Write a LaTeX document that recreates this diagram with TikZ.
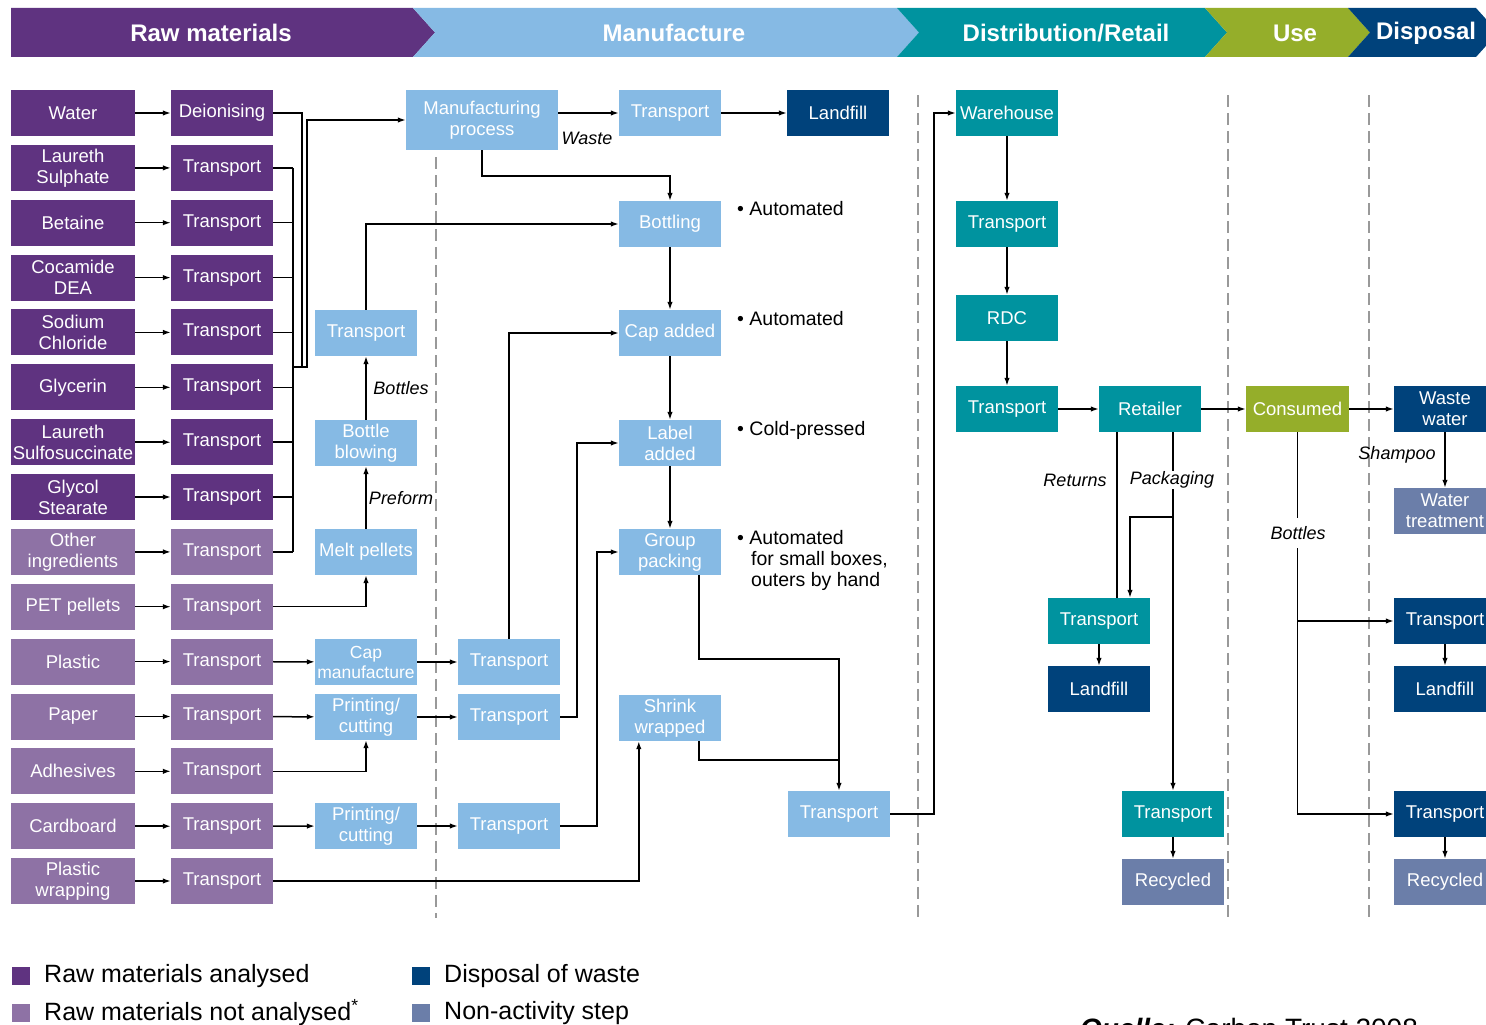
\documentclass[tikz,border=0pt]{standalone}
\usepackage{fontspec}
\setmainfont{Liberation Sans}
\usetikzlibrary{arrows.meta,calc}
\definecolor{cRawA}{HTML}{5F3380}
\definecolor{cRawB}{HTML}{8E72A5}
\definecolor{cManu}{HTML}{86BAE4}
\definecolor{cDist}{HTML}{00939F}
\definecolor{cUse}{HTML}{95AE2A}
\definecolor{cDisp}{HTML}{00427B}
\definecolor{cNon}{HTML}{6B7EA9}
\definecolor{cDash}{HTML}{999999}
\newcommand\bxfont{\fontsize{18.5}{21}\selectfont}
\begin{document}
\begin{tikzpicture}[x=1pt,y=-1pt,
  box/.style={minimum width=102pt,minimum height=46pt,inner sep=0pt,text=white,align=center,font=\bxfont},
  wide/.style={minimum width=124pt},
  rawA/.style={box,fill=cRawA},
  rawB/.style={box,fill=cRawB},
  manu/.style={box,fill=cManu},
  dist/.style={box,fill=cDist},
  usebox/.style={box,fill=cUse},
  disp/.style={box,fill=cDisp},
  nonact/.style={box,fill=cNon},
  ln/.style={line width=1.5pt,black},
  arr/.style={ln,-{Latex[length=8pt,width=5.5pt]}},
  sep/.style={cDash,line width=1.3pt,dash pattern=on 12pt off 6pt},
  lab/.style={font=\fontsize{18}{20}\selectfont\itshape,inner sep=1pt},
  note/.style={font=\fontsize{19.5}{21}\selectfont,anchor=base west,inner sep=0pt},
  hdr/.style={text=white,font=\fontsize{24}{26}\selectfont\bfseries},
  legsq/.style={minimum width=18pt,minimum height=18pt,inner sep=0pt},
  legtxt/.style={font=\fontsize{25}{27}\selectfont,anchor=west,inner sep=0pt}]
\useasboundingbox (0,0) rectangle (1486,1025);
\fill[white] (0,0) rectangle (1486,1025);
% header
\fill[cRawA] (11,8) -- (413,8) -- (435,32.5) -- (413,57) -- (11,57) -- cycle;
\fill[cManu] (413,8) -- (897,8) -- (919,32.5) -- (897,57) -- (413,57) -- (435,32.5) -- cycle;
\fill[cDist] (897,8) -- (1205,8) -- (1227,32.5) -- (1205,57) -- (897,57) -- (919,32.5) -- cycle;
\fill[cUse] (1205,8) -- (1348,8) -- (1370,32.5) -- (1348,57) -- (1205,57) -- (1227,32.5) -- cycle;
\fill[cDisp] (1348,8) -- (1476,8) -- (1498,32.5) -- (1476,57) -- (1348,57) -- (1370,32.5) -- cycle;
\node[hdr] (h1) at (211,33) {Raw materials};
\node[hdr] (h2) at (674,33) {Manufacture};
\node[hdr] (h3) at (1066,33) {Distribution/Retail};
\node[hdr] (h4) at (1295,33) {Use};
\node[hdr] (h5) at (1426,33) {Disposal};
% separators
\draw[sep] (436,157) -- (436,918);
\draw[sep] (918,95) -- (918,918);
\draw[sep] (1228,95) -- (1228,918);
\draw[sep] (1369,95) -- (1369,918);
% raw materials
\node[rawA,wide] (a1) at (73,113) {Water};
\node[rawA] (b1) at (222,113) {Deionising};
\node[rawA,wide] (a2) at (73,167.9) {Laureth\\Sulphate};
\node[rawA] (b2) at (222,167.9) {Transport};
\node[rawA,wide] (a3) at (73,222.7) {Betaine};
\node[rawA] (b3) at (222,222.7) {Transport};
\node[rawA,wide] (a4) at (73,277.6) {Cocamide\\DEA};
\node[rawA] (b4) at (222,277.6) {Transport};
\node[rawA,wide] (a5) at (73,332.4) {Sodium\\Chloride};
\node[rawA] (b5) at (222,332.4) {Transport};
\node[rawA,wide] (a6) at (73,387.3) {Glycerin};
\node[rawA] (b6) at (222,387.3) {Transport};
\node[rawA,wide] (a7) at (73,442.2) {Laureth\\Sulfosuccinate};
\node[rawA] (b7) at (222,442.2) {Transport};
\node[rawA,wide] (a8) at (73,497) {Glycol\\Stearate};
\node[rawA] (b8) at (222,497) {Transport};
\node[rawB,wide] (a9) at (73,551.9) {Other\\ingredients};
\node[rawB] (b9) at (222,551.9) {Transport};
\node[rawB,wide] (a10) at (73,606.7) {PET pellets};
\node[rawB] (b10) at (222,606.7) {Transport};
\node[rawB,wide] (a11) at (73,661.6) {Plastic};
\node[rawB] (b11) at (222,661.6) {Transport};
\node[rawB,wide] (a12) at (73,716.5) {Paper};
\node[rawB] (b12) at (222,716.5) {Transport};
\node[rawB,wide] (a13) at (73,771.3) {Adhesives};
\node[rawB] (b13) at (222,771.3) {Transport};
\node[rawB,wide] (a14) at (73,826.2) {Cardboard};
\node[rawB] (b14) at (222,826.2) {Transport};
\node[rawB,wide] (a15) at (73,881) {Plastic\\wrapping};
\node[rawB] (b15) at (222,881) {Transport};
\foreach \i in {1,...,15} \draw[arr] (a\i) -- (b\i);
% manufacture
\node[manu,minimum width=152pt,minimum height=60pt] (mp) at (482,120) {Manufacturing\\process};
\node[manu] (tt) at (670,113) {Transport};
\node[disp] (lf1) at (838,113) {Landfill};
\node[manu] (bott) at (670,224) {Bottling};
\node[manu] (capadd) at (670,333) {Cap added};
\node[manu] (label) at (670,443) {Label\\added};
\node[manu] (grp) at (670,552) {Group\\packing};
\node[manu] (shrink) at (670,718) {Shrink\\wrapped};
\node[manu] (ft) at (839,814) {Transport};
\node[manu] (m5) at (366,333) {Transport};
\node[manu] (bb) at (366,443) {Bottle\\blowing};
\node[manu] (melt) at (366,552) {Melt pellets};
\node[manu,font=\fontsize{17.5}{20}\selectfont] (capm) at (366,662) {Cap\\manufacture};
\node[manu] (pc1) at (366,717) {Printing/\\cutting};
\node[manu] (pc2) at (366,826) {Printing/\\cutting};
\node[manu] (c11) at (509,662) {Transport};
\node[manu] (c12) at (509,717) {Transport};
\node[manu] (c14) at (509,826) {Transport};
% distribution
\node[dist] (wh) at (1007,113) {Warehouse};
\node[dist] (dt1) at (1007,224) {Transport};
\node[dist] (rdc) at (1007,318) {RDC};
\node[dist] (dt2) at (1007,409) {Transport};
\node[dist] (ret) at (1150,409) {Retailer};
\node[dist] (lt) at (1099,621) {Transport};
\node[disp] (lf2) at (1099,689) {Landfill};
\node[dist] (rt) at (1173,814) {Transport};
\node[nonact] (rec1) at (1173,882) {Recycled};
% use & disposal
\node[usebox,minimum width=103pt] (cons) at (1297.5,409) {Consumed};
\node[disp] (ww) at (1445,409) {Waste\\water};
\node[nonact] (wt) at (1445,511) {Water\\treatment};
\node[disp] (dtr1) at (1445,621) {Transport};
\node[disp] (dlf) at (1445,689) {Landfill};
\node[disp] (dtr2) at (1445,814) {Transport};
\node[nonact] (drec) at (1445,882) {Recycled};
% bus from raw materials
\foreach \i in {2,...,9} \draw[ln] (b\i.east) -- ++(20,0);
\draw[ln] (293,167.9) -- (293,551.9);
\draw[ln] (b1.east) -- (302,113) -- (302,367);
\draw[arr] (293,367) -- (307,367) |- (mp.west);
% manufacture connectors
\draw[arr] (mp.east |- tt.west) -- (tt.west);
\draw[arr] (tt) -- (lf1);
\node[lab] (lwaste) at (587,138) {Waste};
\draw[arr] (mp.south) -- ++(0,26) -| (bott.north);
\draw[arr] (bott) -- (capadd);
\draw[arr] (capadd) -- (label);
\draw[arr] (label) -- (grp);
\draw[arr] (m5.north) |- (bott.west);
\draw[arr] (bb) -- (m5);
\node[lab] (lbottles) at (401,388) {Bottles};
\draw[arr] (melt) -- (bb);
\node[lab] (lpreform) at (401,498) {Preform};
\draw[arr] (b10.east) -| (melt.south);
\draw[arr] (b11) -- (capm);
\draw[arr] (capm) -- (c11);
\draw[arr] (c11.north) |- (capadd.west);
\draw[arr] (b12) -- (pc1);
\draw[arr] (pc1) -- (c12);
\draw[arr] (c12.east) -- ++(17,0) |- (label.west);
\draw[arr] (b13.east) -| (pc1.south);
\draw[arr] (b14) -- (pc2);
\draw[arr] (pc2) -- (c14);
\draw[arr] (c14.east) -- ++(37,0) |- (grp.west);
\draw[arr] (b15.east) -| ([xshift=20pt]shrink.south west);
\coordinate (j1) at (839,659);
\draw[arr] ([xshift=29pt]grp.south) |- (j1) -- (ft.north);
\draw[ln] ([xshift=29pt]shrink.south) |- (839,760);
\draw[arr] (ft.east) -- ++(44,0) |- (wh.west);
% notes
\node[note] (n1) at (737,215) {• Automated};
\node[note] (n2) at (737,325) {• Automated};
\node[note] (n3) at (737,435) {• Cold-pressed};
\node[note] (n4) at (737,544) {• Automated};
\node[note] (n5) at (751,565) {for small boxes,};
\node[note] (n6) at (751,586) {outers by hand};
% distribution connectors
\draw[arr] (wh) -- (dt1);
\draw[arr] (dt1) -- (rdc);
\draw[arr] (rdc) -- (dt2);
\draw[arr] (dt2) -- (ret);
\draw[arr] (ret) -- (cons);
\draw[arr] (cons) -- (ww);
\draw[ln] ([xshift=-33pt]ret.south) -- ([xshift=18pt]lt.north);
\draw[arr] ([xshift=23pt]ret.south) -- (rt.north);
\draw[arr] (1173,517) -| ([xshift=31pt]lt.north);
\node[lab] (lreturns) at (1075,480) {Returns};
\node[lab,fill=white] (lpack) at (1172,480) {Packaging};
\draw[arr] (lt) -- (lf2);
\draw[arr] (rt) -- (rec1);
% use / disposal connectors
\draw[arr] (ww) -- (wt);
\node[lab] (lshampoo) at (1397,455) {Shampoo};
\draw[arr] (cons.south) |- (dtr2.west);
\draw[arr] (cons.south |- dtr1.west) -- (dtr1.west);
\node[lab,fill=white,inner ysep=8pt] (lbottles2) at (1298,533) {Bottles};
\draw[arr] (dtr1) -- (dlf);
\draw[arr] (dtr2) -- (drec);
% legend
\node[legsq,fill=cRawA] (lg1) at (21,976) {};
\node[legtxt] (lt1) at (44,976) {Raw materials analysed};
\node[legsq,fill=cRawB] (lg2) at (21,1013) {};
\node[legtxt] (lt2) at (44,1013) {Raw materials not analysed\textsuperscript{*}};
\node[legsq,fill=cDisp] (lg3) at (421,976) {};
\node[legtxt] (lt3) at (444,976) {Disposal of waste};
\node[legsq,fill=cNon] (lg4) at (421,1013) {};
\node[legtxt] (lt4) at (444,1013) {Non-activity step};
\node[anchor=base west,inner sep=0pt,font=\fontsize{28}{30}\selectfont] (src) at (1080,1038) {\textbf{\textit{Quelle:}} Carbon Trust 2008};
\end{tikzpicture}
\end{document}
